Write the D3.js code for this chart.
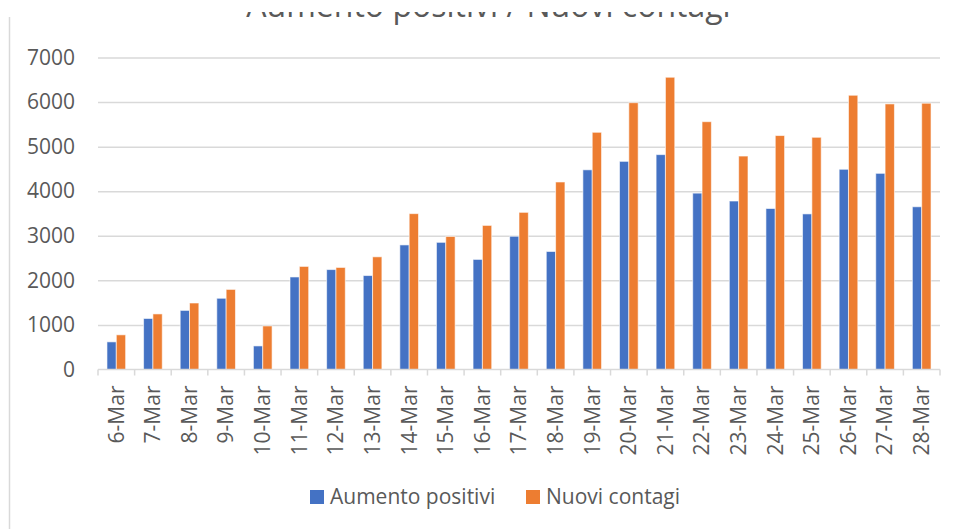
<!DOCTYPE html>
<html>
<head>
<meta charset="utf-8">
<script src="https://cdn.jsdelivr.net/npm/d3@7"></script>
<style>
  body { margin: 0; background: #fff; }
  svg { display: block; font-family: "Open Sans", sans-serif; }
</style>
</head>
<body>
<script>
var dates = ["6-Mar", "7-Mar", "8-Mar", "9-Mar", "10-Mar", "11-Mar", "12-Mar", "13-Mar",
  "14-Mar", "15-Mar", "16-Mar", "17-Mar", "18-Mar", "19-Mar", "20-Mar", "21-Mar",
  "22-Mar", "23-Mar", "24-Mar", "25-Mar", "26-Mar", "27-Mar", "28-Mar"];

var aumentoPositivi = [620, 1145, 1326, 1598, 529, 2076, 2242, 2108, 2795, 2853, 2470,
  2989, 2648, 4480, 4670, 4821, 3957, 3780, 3612, 3491, 4492, 4401, 3651];

var nuoviContagi = [778, 1247, 1492, 1797, 977, 2313, 2290, 2528, 3497, 2985, 3233,
  3526, 4207, 5322, 5986, 6557, 5560, 4789, 5249, 5210, 6153, 5959, 5974];

var seriesNames = ["Aumento positivi", "Nuovi contagi"];
var yTicks = [0, 1000, 2000, 3000, 4000, 5000, 6000, 7000];

var colors = d3.scaleOrdinal().domain(seriesNames).range(["#4472C4", "#ED7D31"]);

var svg = d3.select("body").append("svg").attr("width", 960).attr("height", 529);

// left edge of the chart frame
svg.append("line")
  .attr("x1", 9.5).attr("x2", 9.5)
  .attr("y1", 17).attr("y2", 529)
  .attr("stroke", "#d9d9d9")
  .attr("stroke-width", 1.5);

// title, top part is cut off in the original
svg.append("clipPath").attr("id", "titleClip")
  .append("rect").attr("x", 0).attr("y", 12).attr("width", 960).attr("height", 30);

svg.append("text")
  .attr("clip-path", "url(#titleClip)")
  .attr("x", 488.5)
  .attr("y", 17)
  .attr("text-anchor", "middle")
  .attr("font-size", 32)
  .attr("fill", "#595959")
  .text("Aumento positivi / Nuovi contagi");

var x0 = d3.scaleBand().domain(dates).range([98, 940]);
var x1 = d3.scaleBand().domain(seriesNames)
  .range([x0.bandwidth() * 0.245, x0.bandwidth() * 0.755]);
var y = d3.scaleLinear().domain([0, 7000]).range([369.5, 57.5]);

// gridlines + y labels
var yAxis = svg.append("g")
  .attr("transform", "translate(98,0)")
  .call(d3.axisLeft(y).tickValues(yTicks).tickFormat(d3.format("d")).tickSize(-842).tickPadding(23));
yAxis.select(".domain").remove();
yAxis.selectAll(".tick line")
  .attr("stroke", "#d9d9d9")
  .attr("stroke-width", 1.5)
  .filter((d) => d === 0).remove();
yAxis.selectAll(".tick text")
  .attr("font-size", 21)
  .attr("fill", "#595959")
  .attr("font-family", "Open Sans, sans-serif");

// bars
var rows = dates.map((d, i) => ({
  date: d,
  values: [
    { name: seriesNames[0], value: aumentoPositivi[i] },
    { name: seriesNames[1], value: nuoviContagi[i] }
  ]
}));

svg.append("g")
  .selectAll("g")
  .data(rows)
  .enter()
  .append("g")
  .attr("transform", (d) => "translate(" + x0(d.date) + ",0)")
  .selectAll("rect")
  .data((d) => d.values)
  .enter()
  .append("rect")
  .attr("x", (d) => x1(d.name))
  .attr("width", x1.bandwidth())
  .attr("y", (d) => y(d.value))
  .attr("height", (d) => y(0) - y(d.value))
  .attr("fill", (d) => colors(d.name))
  .attr("stroke", "#fff")
  .attr("stroke-opacity", 0.6)
  .attr("stroke-width", 1);

// x axis with category boundary ticks
var xAxis = svg.append("g").attr("transform", "translate(0,369.5)");
xAxis.append("line")
  .attr("x1", 98).attr("x2", 940)
  .attr("stroke", "#d9d9d9").attr("stroke-width", 1.5);
xAxis.selectAll(".bound")
  .data(dates.concat(["end"]))
  .enter()
  .append("line")
  .attr("class", "bound")
  .attr("x1", (d, i) => (i < dates.length ? x0(d) : 940))
  .attr("x2", (d, i) => (i < dates.length ? x0(d) : 940))
  .attr("y1", 0).attr("y2", 6)
  .attr("stroke", "#d9d9d9").attr("stroke-width", 1.5);

xAxis.selectAll(".lbl")
  .data(dates)
  .enter()
  .append("text")
  .attr("class", "lbl")
  .attr("transform", (d) => "translate(" + (x0(d) + x0.bandwidth() / 2) + ",16) rotate(-90)")
  .attr("text-anchor", "end")
  .attr("dy", "0.35em")
  .attr("font-size", 21)
  .attr("fill", "#595959")
  .text((d) => d);

// legend
var legendPos = [310, 526];
var legend = svg.append("g").selectAll("g")
  .data(seriesNames)
  .enter()
  .append("g")
  .attr("transform", (d, i) => "translate(" + legendPos[i] + ",490)");
legend.append("rect")
  .attr("width", 14).attr("height", 14)
  .attr("fill", (d) => colors(d));
legend.append("text")
  .attr("x", 20)
  .attr("y", 14)
  .attr("font-size", 21)
  .attr("fill", "#595959")
  .text((d) => d);
</script>
</body>
</html>
